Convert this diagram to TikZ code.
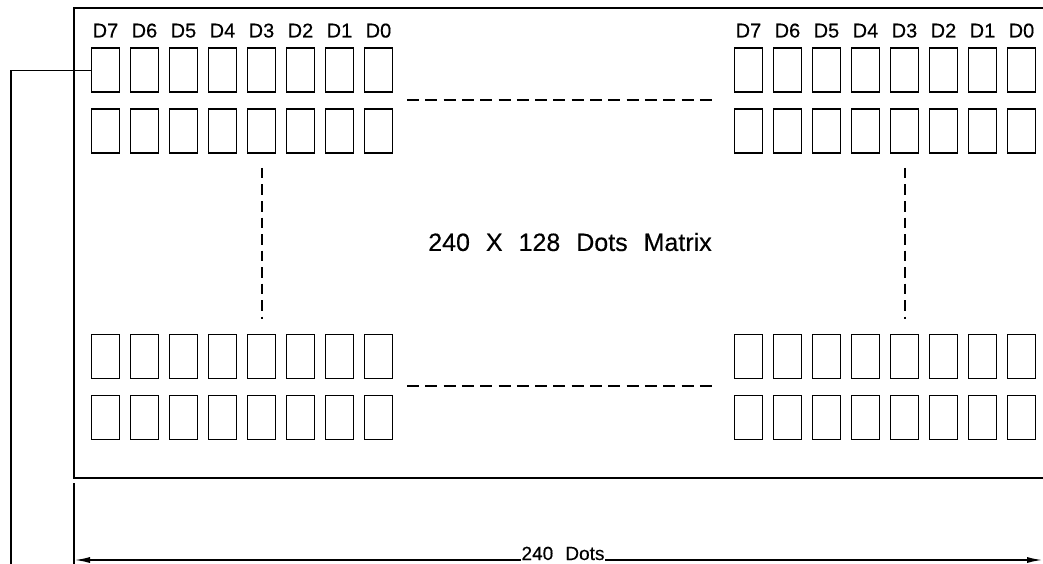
\documentclass[tikz,border=0pt]{standalone}
\usepackage{fontspec}
\setmainfont{Liberation Sans}
\newfontfamily\cadfont[WordSpace=2.3,FakeBold=0.4]{Liberation Sans}
\usetikzlibrary{arrows.meta}
\begin{document}
\begin{tikzpicture}[x=1pt,y=-1pt,line width=1.8pt,
  cell/.style={draw,line width=1.9pt,minimum width=28pt,minimum height=44pt,inner sep=0pt,anchor=north west},
  bitlabel/.style={font=\cadfont\fontsize{20}{20}\selectfont,inner sep=0pt,anchor=base},
  dashline/.style={line width=1.5pt,dash pattern=on 12pt off 6.3pt},
  vdashline/.style={line width=1.5pt,dash pattern=on 10.5pt off 6pt},
  dimarrow/.style={line width=1.8pt,-{Latex[length=16pt,width=6pt]}}]
\useasboundingbox (0,0) rectangle (1043,564);
% frame
\draw (1043,8) -- (74,8) -- (74,478) -- (1043,478);
\coordinate (extTop) at (74,483);
\coordinate (extBot) at (74,564);
\draw (extTop) -- (extBot);
% cells
\foreach \g/\gx in {L/90.5,R/733.5}{
  \foreach \r/\ry in {1/47.5,2/108,3/333.5,4/394.5}{
    \foreach \i in {0,...,7}{
      \node[cell] (\g\r-\i) at (\gx+\i*39,\ry) {};
    }
  }
}
% bit labels
\foreach \g in {L,R}{
  \foreach \i in {0,...,7}{
    \pgfmathtruncatemacro{\b}{7-\i}
    \node[bitlabel] (lab\g-\i) at ([yshift=10pt]\g1-\i.north) {D\b};
  }
}
% dashed continuation lines
\coordinate (h1a) at (407,100);
\coordinate (h1b) at (718,100);
\coordinate (h2a) at (407,386);
\coordinate (h2b) at (718,386);
\draw[dashline] (h1a) -- (h1b);
\draw[dashline] (h2a) -- (h2b);
\coordinate (v1a) at (262,168);
\coordinate (v1b) at (262,319);
\coordinate (v2a) at (905,168);
\coordinate (v2b) at (905,319);
\draw[vdashline] (v1a) -- (v1b);
\draw[vdashline] (v2a) -- (v2b);
% title
\node[font=\cadfont\fontsize{25}{25}\selectfont,inner sep=0pt] (title) at (570,242) {240 X 128 Dots Matrix};
% connector from first cell
\coordinate (conBot) at (11,564);
\draw (L1-0.west) -- (L1-0.west -| conBot) -- (conBot);
% dimension
\node[font=\cadfont\fontsize{19}{19}\selectfont,inner sep=0pt,anchor=base] (dimlbl) at (563,560) {240 Dots};
\coordinate (dimL) at (74,560);
\coordinate (dimR) at (1043,560);
\draw[dimarrow] (dimlbl.base west) -- (dimL);
\draw[dimarrow] (dimlbl.base east) -- (dimR);
\end{tikzpicture}
\end{document}
